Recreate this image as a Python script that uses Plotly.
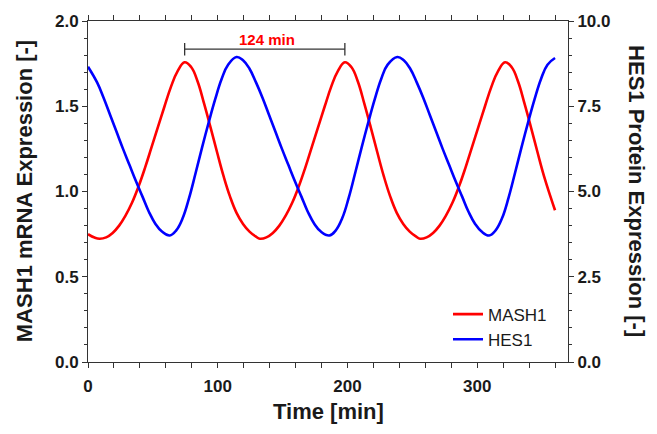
import numpy as np
import plotly.graph_objects as go

# ---- data ----
time_mash1 = [0, 5, 9, 14, 19, 24, 29, 34, 39, 44, 49, 54, 59, 64, 69, 74.5,
              79.5, 84.5, 89.5, 94.5, 99.5, 104.5, 109.5, 114.5, 119.5, 124.5, 129.5, 132.5,
              137.5, 142.5, 147.5, 152.5, 157.5, 162.5, 167.5, 172.5, 177.5, 182.5, 187.5, 192.5, 198,
              203, 208, 213, 218, 223, 228, 233, 238, 243, 248, 253, 256,
              261, 266, 271, 276, 281, 286, 291, 296, 301, 306, 311, 316, 321.5,
              326.5, 331.5, 336.5, 341.5, 346.5, 351.5, 356.5, 360]
mash1 = [0.75, 0.73, 0.723,
         0.731, 0.757, 0.80, 0.86, 0.935, 1.03, 1.14, 1.26, 1.38, 1.50, 1.615, 1.705, 1.758,
         1.73, 1.645, 1.515, 1.375, 1.23, 1.09, 0.97, 0.875, 0.81, 0.765, 0.735, 0.723,
         0.731, 0.757, 0.80, 0.86, 0.935, 1.03, 1.14, 1.26, 1.38, 1.50, 1.615, 1.705, 1.758,
         1.73, 1.645, 1.515, 1.375, 1.23, 1.09, 0.97, 0.875, 0.81, 0.765, 0.735, 0.723,
         0.731, 0.757, 0.80, 0.86, 0.935, 1.03, 1.14, 1.26, 1.38, 1.50, 1.615, 1.705, 1.758,
         1.73, 1.645, 1.515, 1.375, 1.23, 1.09, 0.97, 0.89]

time_hes1 = [0, 7, 12, 17, 22, 27, 32, 37, 42, 47, 52, 57, 63,
             68, 73, 78, 83, 88, 93, 98, 103, 108, 114.5,
             119.5, 124.5, 129.5, 134.5, 139.5, 144.5, 149.5, 154.5, 159.5, 164.5, 169.5, 174.5, 179.5, 186,
             191, 196, 201, 206, 211, 216, 221, 226, 231, 238.4,
             243.4, 248.4, 253.4, 258.4, 263.4, 268.4, 273.4, 278.4, 283.4, 288.4, 293.4, 298.4, 303.4, 309.2,
             314.2, 319.2, 324.2, 329.2, 334.2, 339.2, 344.2, 349.2, 354.2, 360]
hes1 = [8.66, 8.2, 7.75, 7.25, 6.75, 6.25, 5.775, 5.3, 4.85, 4.4, 4.05, 3.825, 3.71,
        3.86, 4.22, 4.82, 5.55, 6.3, 7.02, 7.7, 8.3, 8.72, 8.945,
        8.85, 8.6, 8.2, 7.75, 7.25, 6.75, 6.25, 5.775, 5.3, 4.85, 4.4, 4.05, 3.825, 3.71,
        3.86, 4.22, 4.82, 5.55, 6.3, 7.02, 7.7, 8.3, 8.72, 8.945,
        8.85, 8.6, 8.2, 7.75, 7.25, 6.75, 6.25, 5.775, 5.3, 4.85, 4.4, 4.05, 3.825, 3.71,
        3.86, 4.22, 4.82, 5.55, 6.3, 7.02, 7.7, 8.3, 8.72, 8.915]

x_ticks = [0, 100, 200, 300]
period_label = "124 min"

FONT = "Arial, Liberation Sans, sans-serif"
AX = "#333333"
TXT = "#1a1a1a"

fig = go.Figure()
fig.add_trace(go.Scatter(x=time_mash1, y=mash1, name="MASH1", mode="lines",
                         line=dict(color="#ff0000", width=2.6, shape="spline", smoothing=1.2),
                         yaxis="y"))
fig.add_trace(go.Scatter(x=time_hes1, y=hes1, name="HES1", mode="lines",
                         line=dict(color="#0000ff", width=2.6, shape="spline", smoothing=1.2),
                         yaxis="y2"))

tickfont = dict(family=FONT, size=17, color=TXT, weight="bold")

fig.update_layout(
    width=657, height=434,
    margin=dict(l=88, r=89, t=17, b=72, pad=0),
    paper_bgcolor="white", plot_bgcolor="white",
    showlegend=True,
    legend=dict(x=0.75, y=0.192, xanchor="left", yanchor="top",
                font=dict(family=FONT, size=17, color=TXT),
                bgcolor="rgba(0,0,0,0)", tracegroupgap=0),
    xaxis=dict(range=[0, 370], tickvals=x_ticks, ticks="outside", ticklen=5, tickwidth=1,
               tickcolor=AX, showline=True, linecolor=AX, linewidth=1, mirror="allticks",
               showgrid=False, zeroline=False, tickfont=tickfont, ticklabelstandoff=4,
               minor=dict(dtick=20, tick0=0, ticks="outside", ticklen=3, tickcolor=AX, showgrid=False)),
    yaxis=dict(range=[0, 2], dtick=0.5, tick0=0, tickformat=".1f", ticks="outside", ticklen=5,
               tickcolor=AX, showline=True, linecolor=AX, linewidth=1, showgrid=False, zeroline=False,
               tickfont=tickfont,
               minor=dict(dtick=0.1, tick0=0, ticks="outside", ticklen=3, tickcolor=AX, showgrid=False)),
    yaxis2=dict(range=[0, 10], dtick=2.5, tick0=0, tickformat=".1f", ticks="outside", ticklen=5,
                tickcolor=AX, showline=True, linecolor=AX, linewidth=1, showgrid=False, zeroline=False,
                overlaying="y", side="right", tickfont=tickfont,
                minor=dict(dtick=0.5, tick0=0, ticks="outside", ticklen=3, tickcolor=AX, showgrid=False)),
)

title_font = dict(family=FONT, size=22, color=TXT, weight="bold")
fig.add_annotation(text="MASH1 mRNA Expression [-]", xref="paper", yref="paper",
                   x=-0.132, y=0.5, xanchor="center", yanchor="middle", textangle=-90,
                   showarrow=False, font=title_font)
fig.add_annotation(text="HES1 Protein Expression [-]", xref="paper", yref="paper",
                   x=1.1425, y=0.5, xanchor="center", yanchor="middle", textangle=90,
                   showarrow=False, font=title_font)
fig.add_annotation(text="Time [min]", xref="paper", yref="paper",
                   x=0.5, y=-0.146, xanchor="center", yanchor="middle",
                   showarrow=False, font=title_font)

# period bracket between the first two MASH1 peaks (derived from data)
tm = np.array(time_mash1)
mv = np.array(mash1)
m1 = tm < 130
m2 = (tm > 130) & (tm < 260)
p1 = tm[m1][np.argmax(mv[m1])]
p2 = tm[m2][np.argmax(mv[m2])]
yb = 1.835
for shp in [dict(x0=p1, x1=p2, y0=yb, y1=yb),
            dict(x0=p1, x1=p1, y0=yb - 0.038, y1=yb + 0.036),
            dict(x0=p2, x1=p2, y0=yb - 0.038, y1=yb + 0.036)]:
    fig.add_shape(type="line", xref="x", yref="y", line=dict(color=AX, width=1.3), **shp)
fig.add_annotation(text=period_label, xref="x", yref="y", x=(p1 + p2) / 2 + 2, y=1.892,
                   xanchor="center", yanchor="middle", showarrow=False,
                   font=dict(family=FONT, size=15, color="#ff0000", weight="bold"))

fig.write_html("out.html")
